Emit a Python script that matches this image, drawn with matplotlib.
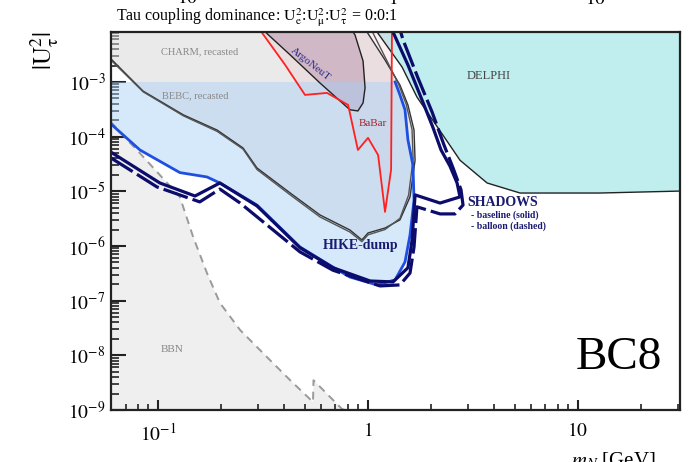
import matplotlib
matplotlib.use('Agg')
import matplotlib.pyplot as plt
import numpy as np
from matplotlib.ticker import LogLocator, NullFormatter, FixedLocator

plt.rcParams['font.family'] = ['Liberation Serif', 'DejaVu Serif']
plt.rcParams['mathtext.fontset'] = 'stix'

# ---------------- data (m_N in GeV, |U_tau|^2) ----------------
xlim = (0.0597, 30.6)
ylim = (1e-9, 8.2e-3)

bbn_m = [0.0597, 0.0736, 0.0794, 0.127, 0.147, 0.171, 0.197, 0.246, 0.330, 0.426, 0.547, 0.550, 0.752, 0.777]
bbn_U = [1.85e-4, 7.66e-5, 5.7e-5, 7.9e-6, 1.46e-6, 3.2e-7, 9.1e-8, 2.9e-8, 9.3e-9, 3.5e-9, 1.4e-9, 3.5e-9, 1.04e-9, 1.0e-9]

charm_m = [0.0597, 0.0849, 0.132, 0.191, 0.254, 0.296, 0.426, 0.590, 0.820, 0.935, 1.0, 1.205, 1.419, 1.585, 1.675, 1.656, 1.549, 1.419, 1.205, 0.989]
charm_U = [2.64e-3, 6.8e-4, 2.5e-4, 1.32e-4, 6.2e-5, 2.67e-5, 9.3e-6, 3.7e-6, 1.96e-6, 1.29e-6, 1.73e-6, 2.13e-6, 3.0e-6, 7.9e-6, 3.7e-5, 1.32e-4, 3.8e-4, 8.8e-4, 2.52e-3, 8.2e-3]

bebc_m = [0.0597, 0.0849, 0.132, 0.191, 0.254, 0.296, 0.426, 0.590, 0.820, 0.935, 1.0, 1.205, 1.419, 1.56, 1.64, 1.62, 1.52, 1.40, 1.22, 1.05]
bebc_U = [2.5e-3, 6.6e-4, 2.4e-4, 1.25e-4, 5.9e-5, 2.5e-5, 8.6e-6, 3.4e-6, 1.8e-6, 1.2e-6, 1.6e-6, 2.0e-6, 3.2e-6, 8.5e-6, 3.9e-5, 1.35e-4, 3.9e-4, 9.0e-4, 2.6e-3, 8.2e-3]

argo_m = [0.324, 0.426, 0.590, 0.820, 0.895, 0.947, 0.968, 0.947, 0.867, 0.849]
argo_U = [8.2e-3, 3.12e-3, 9.6e-4, 3.1e-4, 2.95e-4, 4.13e-4, 7.8e-4, 2.42e-3, 7.25e-3, 8.2e-3]

babar_m = [0.313, 0.403, 0.501, 0.638, 0.804, 0.895, 1.0, 1.117, 1.205, 1.288, 1.300]
babar_U = [7.9e-3, 2.05e-3, 5.8e-4, 6.3e-4, 3.8e-4, 5.7e-5, 9.5e-5, 4.6e-5, 4.2e-6, 2.5e-5, 8.2e-3]

delphi_m = [1.104, 1.452, 1.710, 2.541, 2.742, 3.69, 5.30, 12.7, 30.6]
delphi_U = [8.2e-3, 1.88e-3, 5.3e-4, 5.7e-5, 3.7e-5, 1.42e-5, 9.3e-6, 9.3e-6, 1.01e-5]

hike_m = [0.0597, 0.082, 0.127, 0.171, 0.197, 0.296, 0.474, 0.681, 0.820, 1.104, 1.346, 1.50, 1.585, 1.656, 1.637, 1.549, 1.50, 1.419, 1.346]
hike_U = [1.7e-4, 5.7e-5, 2.2e-5, 1.83e-5, 1.42e-5, 5.6e-6, 9.6e-7, 4.1e-7, 2.7e-7, 1.94e-7, 2.4e-7, 5.1e-7, 1.59e-6, 6.9e-6, 3.0e-5, 8.7e-5, 3.1e-4, 5.8e-4, 1.0e-3]

shadows_base_m = [0.0597, 0.102, 0.150, 0.197, 0.296, 0.474, 0.681, 1.023, 1.315, 1.549, 1.622, 1.675, 2.203, 2.742, 2.655, 2.455, 2.227, 2.042, 1.807, 1.549, 1.315, 1.245]
shadows_base_U = [5.2e-5, 1.42e-5, 8.2e-6, 1.42e-5, 5.4e-6, 9.3e-7, 4.0e-7, 2.29e-7, 2.2e-7, 4.0e-7, 1.29e-6, 8.6e-6, 6.1e-6, 7.9e-6, 1.42e-5, 2.9e-5, 5.7e-5, 1.44e-4, 4.7e-4, 2.05e-3, 8.2e-3, 1.36e-2]

shadows_ball_m = [0.0597, 0.0711, 0.0989, 0.158, 0.197, 0.246, 0.474, 0.681, 1.140, 1.419, 1.585, 1.656, 1.710, 2.203, 2.594, 2.834, 2.773, 2.541, 2.30, 2.018, 1.730, 1.469, 1.374]
shadows_ball_U = [4.07e-5, 2.67e-5, 1.2e-5, 6.4e-6, 1.1e-5, 6.1e-6, 7.8e-7, 3.6e-7, 1.86e-7, 1.94e-7, 3.2e-7, 9.6e-7, 5.2e-6, 3.86e-6, 3.86e-6, 5.6e-6, 1.06e-5, 2.67e-5, 7.05e-5, 2.83e-4, 1.18e-3, 5.86e-3, 1.36e-2]

xticks = [0.1, 1, 10]
xticklabels = [r'$10^{-1}$', r'$1$', r'$10$']
yticks = [1e-9, 1e-8, 1e-7, 1e-6, 1e-5, 1e-4, 1e-3]
yticklabels = [r'$10^{-9}$', r'$10^{-8}$', r'$10^{-7}$', r'$10^{-6}$', r'$10^{-5}$', r'$10^{-4}$', r'$10^{-3}$']

# ---------------- figure ----------------
fig = plt.figure(figsize=(7, 4.62), dpi=100)
ax = fig.add_axes([111/700, 1-410/462, 569/700, 378/462])
ax.set_xscale('log')
ax.set_yscale('log')
ax.set_xlim(*xlim)
ax.set_ylim(*ylim)

# BBN
ax.fill(bbn_m + [bbn_m[0]], bbn_U + [ylim[0]], color='#efefef', lw=0, zorder=1)
ax.plot(bbn_m, bbn_U, color='#9a9a9a', lw=1.4, ls=(0, (4, 3)), zorder=6)

# DELPHI
ax.fill(delphi_m + [delphi_m[-1]], delphi_U + [delphi_U[0]], color='#c0eeee', lw=0, zorder=1)
ax.plot(delphi_m, delphi_U, color='#222222', lw=1.0, zorder=6)

# CHARM / BEBC recasted
ax.fill(charm_m + [charm_m[0]], charm_U + [charm_U[-1]], color='#d6d6d6', alpha=0.5, lw=0, zorder=2)
ax.plot(charm_m, charm_U, color='#333333', lw=1.0, zorder=6)
ax.plot(bebc_m, bebc_U, color='#555555', lw=1.0, zorder=6)

# ArgoNeuT
ax.fill(argo_m, argo_U, color='#946994', alpha=0.35, lw=0, zorder=3)
ax.plot(argo_m, argo_U, color='#222222', lw=1.0, zorder=6)

# BaBar
ax.fill(babar_m, babar_U, color='#f0a0b0', alpha=0.15, lw=0, zorder=3)
ax.plot(babar_m, babar_U, color='#ff2020', lw=1.3, zorder=6)

# HIKE-dump
ax.fill(hike_m + [hike_m[0]], hike_U + [hike_U[-1]], color='#a6cff7', alpha=0.45, lw=0, zorder=5)
ax.plot(hike_m, hike_U, color='#1f4fe0', lw=2.0, zorder=7, solid_joinstyle='round')

# SHADOWS
ax.plot(shadows_base_m, shadows_base_U, color='#0c0c6c', lw=2.3, zorder=8, solid_joinstyle='round')
ax.plot(shadows_ball_m, shadows_ball_U, color='#0c0c6c', lw=2.3, ls=(0, (8, 1.6)), zorder=8)

# ---------------- axes styling ----------------
ax.xaxis.set_major_locator(FixedLocator(xticks))
ax.set_xticklabels(xticklabels)
ax.xaxis.set_minor_locator(LogLocator(base=10, subs=np.arange(2, 10)))
ax.xaxis.set_minor_formatter(NullFormatter())
ax.yaxis.set_major_locator(FixedLocator(yticks))
ax.set_yticklabels(yticklabels)
ax.yaxis.set_minor_locator(LogLocator(base=10, subs=np.arange(2, 10), numticks=20))
ax.yaxis.set_minor_formatter(NullFormatter())

ax.tick_params(axis='x', which='major', direction='in', length=7.5, width=1.5, labelsize=14, pad=9, colors='#222222', labelcolor='black')
ax.tick_params(axis='x', which='minor', direction='in', length=4, width=1.2, colors='#222222')
ax.tick_params(axis='y', which='major', direction='in', length=11, width=1.5, labelsize=14, pad=4, colors='#222222', labelcolor='black')
ax.tick_params(axis='y', which='minor', direction='in', length=5.5, width=1.2, colors='#222222')
for s in ax.spines.values():
    s.set_linewidth(1.6)
    s.set_color('#222222')
    s.set_zorder(10)

# ---------------- labels ----------------
tk = dict(transform=ax.transAxes, zorder=9)
ax.text(0.156, 0.947, 'CHARM, recasted', fontsize=7.5, color='#888888', ha='center', va='center', **tk)
ax.text(0.148, 0.831, 'BEBC, recasted', fontsize=7.5, color='#888888', ha='center', va='center', **tk)
ax.text(0.663, 0.884, 'DELPHI', fontsize=9, color='#444444', ha='center', va='center', **tk)
ax.text(0.460, 0.759, 'BaBar', fontsize=8, color='#a02830', ha='center', va='center', **tk)
ax.text(0.350, 0.915, 'ArgoNeuT', fontsize=8, color='#2a2a8a', ha='center', va='center', rotation=-38, **tk)
ax.text(0.438, 0.434, 'HIKE-dump', fontsize=10, color='#1a1a70', fontweight='bold', ha='center', va='center', **tk)
ax.text(0.627, 0.550, 'SHADOWS', fontsize=10, color='#1a1a70', fontweight='bold', ha='left', va='center', **tk)
ax.text(0.632, 0.516, '- baseline (solid)', fontsize=7, color='#1a1a70', fontweight='bold', ha='left', va='center', **tk)
ax.text(0.632, 0.487, '- balloon (dashed)', fontsize=7, color='#1a1a70', fontweight='bold', ha='left', va='center', **tk)
ax.text(0.107, 0.159, 'BBN', fontsize=8, color='#888888', ha='center', va='center', **tk)
ax.text(0.968, 0.138, 'BC8', fontsize=34, color='black', ha='right', va='center', **tk)

fig.text(257/700, 1-21/462, r'Tau coupling dominance: $\mathrm{U_e^2}$:$\mathrm{U_\mu^2}$:$\mathrm{U_\tau^2}$ = 0:0:1',
         fontsize=11.5, ha='center', va='baseline')
fig.text(45/700, 1-51/462, r'$|\mathrm{U_\tau^2}|$', fontsize=18, rotation=90, ha='center', va='center')
# partially visible labels of neighbouring panel above (cut by the image edge)
fig.text(195/700, 1-4/462, r'$10^{-1}$', fontsize=14, ha='center', va='baseline')
fig.text(393/700, 1-4/462, r'$1$', fontsize=14, ha='center', va='baseline')
fig.text(596/700, 1-4/462, r'$10$', fontsize=14, ha='center', va='baseline')
fig.text(613/700, 1-450/462, r'$m_N$ [GeV]', fontsize=15, ha='center', va='top')

fig.savefig('out.png', dpi=100)
